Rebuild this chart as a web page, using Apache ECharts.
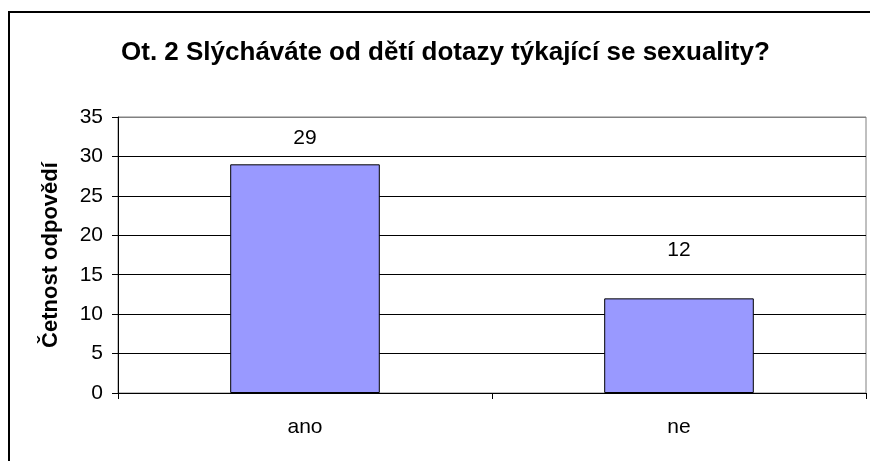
<!DOCTYPE html>
<html>
<head>
<meta charset="utf-8">
<script src="https://cdn.jsdelivr.net/npm/echarts@6/dist/echarts.min.js"></script>
<style>
html,body{margin:0;padding:0;background:#fff;}
#c{width:870px;height:461px;}
</style>
</head>
<body>
<div id="c"></div>
<script>
var titleText = 'Ot. 2 Slýcháváte od dětí dotazy týkající se sexuality?';
var yAxisName = 'Četnost odpovědí';
var categories = ['ano', 'ne'];
var values = [29, 12];

var labelDistances = [16, 38];

var chart = echarts.init(document.getElementById('c'), null, {renderer: 'canvas'});
var font = 'Arial, "Liberation Sans", sans-serif';
chart.setOption({
  backgroundColor: '#fff',
  animation: false,
  title: {
    text: titleText,
    left: 116, top: 35,
    textStyle: {fontFamily: font, fontSize: 26, fontWeight: 'bold', color: '#000'}
  },
  graphic: [{
    type: 'rect', shape: {x: 9, y: 12, width: 900, height: 500},
    style: {fill: 'none', stroke: '#000', lineWidth: 2}, silent: true, z: 100
  }],
  grid: {left: 118, right: 4, top: 117, bottom: 68, show: true, borderColor: '#808080', borderWidth: 1, backgroundColor: '#fff'},
  xAxis: {
    type: 'category', data: categories,
    axisLine: {lineStyle: {color: '#000', width: 1}},
    axisTick: {show: true, alignWithLabel: false, length: 6, lineStyle: {color: '#000'}},
    axisLabel: {color: '#000', fontFamily: font, fontSize: 21, margin: 24}
  },
  yAxis: {
    type: 'value', min: 0, max: 35, interval: 5,
    name: yAxisName, nameLocation: 'middle', nameGap: 56, nameRotate: 90,
    nameTextStyle: {fontFamily: font, fontSize: 22, fontWeight: 'bold', color: '#000'},
    axisLine: {show: true, lineStyle: {color: '#000', width: 1}},
    axisTick: {show: true, length: 6, lineStyle: {color: '#000'}},
    axisLabel: {color: '#000', fontFamily: font, fontSize: 21, margin: 15},
    splitLine: {show: true, lineStyle: {color: ['#000','#000','#000','#000','#000','#000','#000','#808080'], width: 1}}
  },
  series: [{
    type: 'bar',
    data: values.map(function (v, i) {
      return {value: v, label: {distance: labelDistances[i]}};
    }),
    barWidth: '40%',
    itemStyle: {color: '#9999FF', borderColor: '#000', borderWidth: 1},
    label: {show: true, position: 'top', color: '#000', fontFamily: font, fontSize: 21}
  }]
});
</script>
</body>
</html>
